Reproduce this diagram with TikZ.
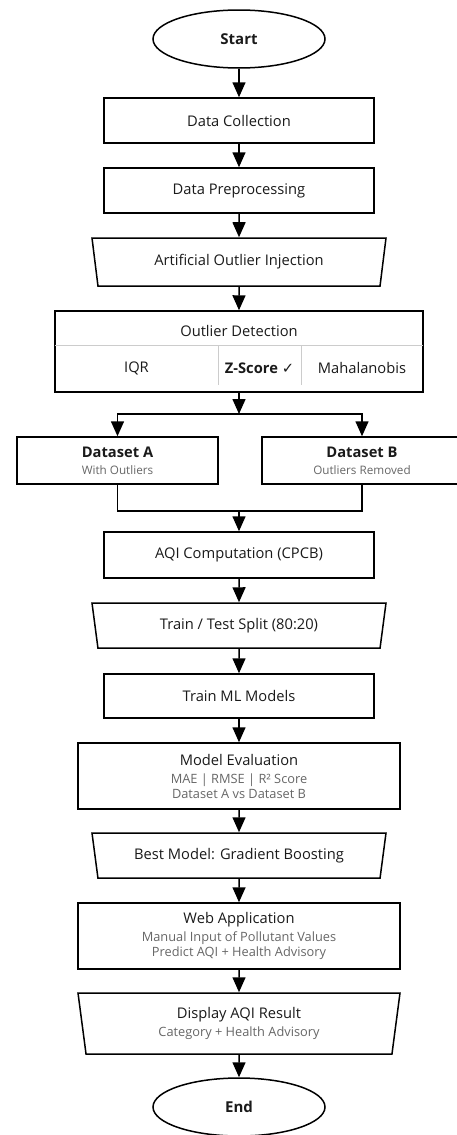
\documentclass[tikz,border=0pt]{standalone}
\usepackage{fontspec}
\setmainfont{Open Sans}
\newfontfamily\symfont{DejaVu Sans}
\usepackage{tikz}
\usetikzlibrary{arrows.meta,positioning,calc,shapes.geometric}
\definecolor{inkdark}{HTML}{1A1A1A}
\definecolor{inkgrey}{HTML}{666666}
\definecolor{rulegrey}{HTML}{CCCCCC}
\newcommand{\subfont}{\fontsize{12.8}{15}\selectfont\color{inkgrey}}
\newcommand{\smallsub}{\fontsize{11.7}{14}\selectfont\color{inkgrey}}

\begin{document}
\begin{tikzpicture}[x=1pt,y=-1pt,line width=1.5pt,
    box/.style={draw,rectangle,minimum width=270pt,minimum height=45pt,inner sep=0pt,
        align=center,text=inkdark,font=\fontsize{14.7}{18}\selectfont},
    terminal/.style={draw,ellipse,minimum width=172pt,minimum height=58pt,inner sep=0pt,
        text=inkdark,font=\bfseries\fontsize{15}{18}\selectfont},
    io/.style={draw,trapezium,trapezium left angle=112,trapezium right angle=112,
        trapezium stretches body,minimum width=294pt,minimum height=45pt,inner sep=0pt,
        align=center,text=inkdark,font=\fontsize{14.7}{18}\selectfont},
    label/.style={inner sep=0pt,text=inkdark,font=\fontsize{14.7}{18}\selectfont},
    flow/.style={-{Triangle[length=15pt,width=13pt]}}]

\useasboundingbox (0,0) rectangle (457,1135);

% Main column
\node[terminal] (start) at (239,39) {Start};
\node[box] (collect) at (239,120.5) {Data Collection};
\node[box] (prep) at (239,190.5) {Data Preprocessing};
\node[io,minimum height=48pt] (inject) at (239,262) {Artificial Outlier Injection};

% Outlier detection table
\node[draw,minimum width=368pt,minimum height=81pt,inner sep=0pt] (detect) at (239,351.5) {};
\node[label] (detecthead) at (239,331) {Outlier Detection};
\draw[rulegrey,line width=0.8pt] ($(detect.north west)+(0.8,35)$) -- ($(detect.north east)+(-0.8,35)$);
\draw[rulegrey,line width=0.8pt] (218,346) -- (218,385);
\draw[rulegrey,line width=0.8pt] (301,346) -- (301,385);
\node[label] (iqr) at (136.5,368) {IQR};
\node[label] (zscore) at (259.5,368) {\bfseries Z-Score {\symfont\mdseries ✓}};
\node[label] (maha) at (362,368) {Mahalanobis};

% Split into the two datasets
\coordinate (fork) at (239,414);
\coordinate (merge) at (239,511);
\node[box,minimum width=201pt,minimum height=47pt] (dsA) at (117.5,460.5)
    {\bfseries Dataset A\\[-1pt]{\smallsub With Outliers}};
\node[box,minimum width=200pt,minimum height=47pt] (dsB) at (362,460.5)
    {\bfseries Dataset B\\[-1pt]{\smallsub Outliers Removed}};

\node[box,minimum height=46pt] (aqi) at (239,555) {AQI Computation (CPCB)};
\node[io] (ttsplit) at (239,625.5) {Train / Test Split (80:20)};
\node[box,minimum height=44pt] (train) at (239,696) {Train ML Models};
\node[box,minimum width=322pt,minimum height=66pt] (eval) at (239,776)
    {Model Evaluation\\[0pt]{\subfont MAE | RMSE | R² Score}\\[-3pt]{\subfont Dataset A vs Dataset B}};
\node[io] (best) at (239,855.5) {Best Model: Gradient Boosting};
\node[box,minimum width=322pt,minimum height=66pt] (web) at (239,936)
    {Web Application\\[0pt]{\subfont Manual Input of Pollutant Values}\\[-3pt]{\subfont Predict AQI + Health Advisory}};
\node[io,trapezium left angle=104,trapezium right angle=104,minimum width=322pt,minimum height=61pt] (show) at (239,1023.5)
    {Display AQI Result\\[0pt]{\subfont Category + Health Advisory}};
\node[terminal] (stop) at (239,1107) {End};

% Arrows
\foreach \a/\b in {start/collect, collect/prep, prep/inject, inject/detect,
    aqi/ttsplit, ttsplit/train, train/eval, eval/best, best/web, web/show, show/stop}{
    \draw[flow] (\a) -- (\b);
}
\draw[flow] (detect) -- (fork);
\draw[flow] (fork) -| (dsA.north);
\draw[flow] (fork) -| (dsB.north);
\draw (dsA.south) |- (merge) -| (dsB.south);
\draw[flow] (merge) -- (aqi);

\end{tikzpicture}
\end{document}
